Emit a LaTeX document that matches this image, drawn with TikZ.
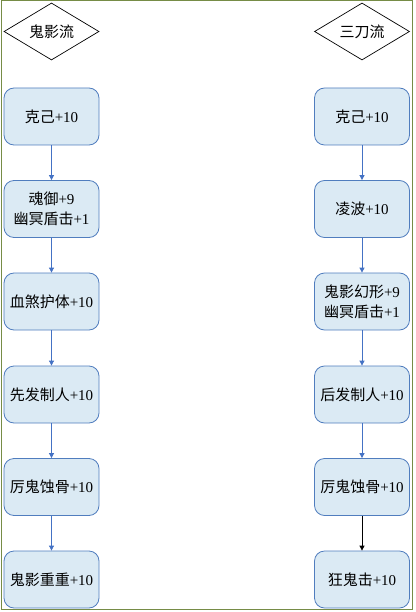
\documentclass[tikz,border=0pt]{standalone}
\usepackage{fontspec}
\setmainfont{Liberation Serif}
\newfontfamily\cjk{Noto Sans CJK SC}
\usetikzlibrary{shapes.geometric,arrows.meta}
\definecolor{boxfill}{RGB}{219,234,244}
\definecolor{boxline}{RGB}{80,125,190}
\definecolor{arrowblue}{RGB}{68,114,196}
\definecolor{framegreen}{RGB}{118,140,70}
\tikzset{
  stepbox/.style={rectangle, rounded corners=10pt, draw=boxline, fill=boxfill, line width=0.8pt,
    minimum width=95pt, minimum height=57pt, inner sep=1pt, align=center,
    font=\fontsize{15}{20}\selectfont},
  startbox/.style={diamond, draw=black, line width=0.7pt, minimum width=95pt, minimum height=57pt,
    aspect=1.67, inner sep=0pt, font=\fontsize{15}{20}\selectfont},
  flow/.style={draw=arrowblue, line width=0.8pt, -{Triangle[length=5pt,width=5pt]}},
  flowblack/.style={draw=black, line width=0.8pt, -{Triangle[length=5pt,width=5pt]}},
}
\newcommand{\zh}[1]{{\cjk #1}}
\begin{document}
\begin{tikzpicture}[x=1pt,y=-1pt]
\useasboundingbox (0,0) rectangle (415,612);
\draw[framegreen, line width=1pt] (1.5,1) rectangle (412.5,609.5);
% left column
\node[startbox] (ld) at (51.5,31.5) {\zh{鬼影流}};
\node[stepbox] (l1) at (51.5,116.5) {\zh{克己}+10};
\node[stepbox] (l2) at (51.5,209) {\zh{魂御}+9\\\zh{幽冥盾击}+1};
\node[stepbox] (l3) at (51.5,301.5) {\zh{血煞护体}+10};
\node[stepbox] (l4) at (51.5,394.5) {\zh{先发制人}+10};
\node[stepbox] (l5) at (51.5,487) {\zh{厉鬼蚀骨}+10};
\node[stepbox] (l6) at (51.5,579.5) {\zh{鬼影重重}+10};
% right column
\node[startbox] (rd) at (362,31.5) {\zh{三刀流}};
\node[stepbox] (r1) at (362,116.5) {\zh{克己}+10};
\node[stepbox] (r2) at (362,209) {\zh{凌波}+10};
\node[stepbox] (r3) at (362,301.5) {\zh{鬼影幻形}+9\\\zh{幽冥盾击}+1};
\node[stepbox] (r4) at (362,394.5) {\zh{后发制人}+10};
\node[stepbox] (r5) at (362,487) {\zh{厉鬼蚀骨}+10};
\node[stepbox] (r6) at (362,579.5) {\zh{狂鬼击}+10};
% connectors
\draw[flow] (l1) -- (l2);
\draw[flow] (l2) -- (l3);
\draw[flow] (l3) -- (l4);
\draw[flow] (l4) -- (l5);
\draw[flow] (l5) -- (l6);
\draw[flow] (r1) -- (r2);
\draw[flow] (r2) -- (r3);
\draw[flow] (r3) -- (r4);
\draw[flow] (r4) -- (r5);
\draw[flowblack] (r5) -- (r6);
\end{tikzpicture}
\end{document}
